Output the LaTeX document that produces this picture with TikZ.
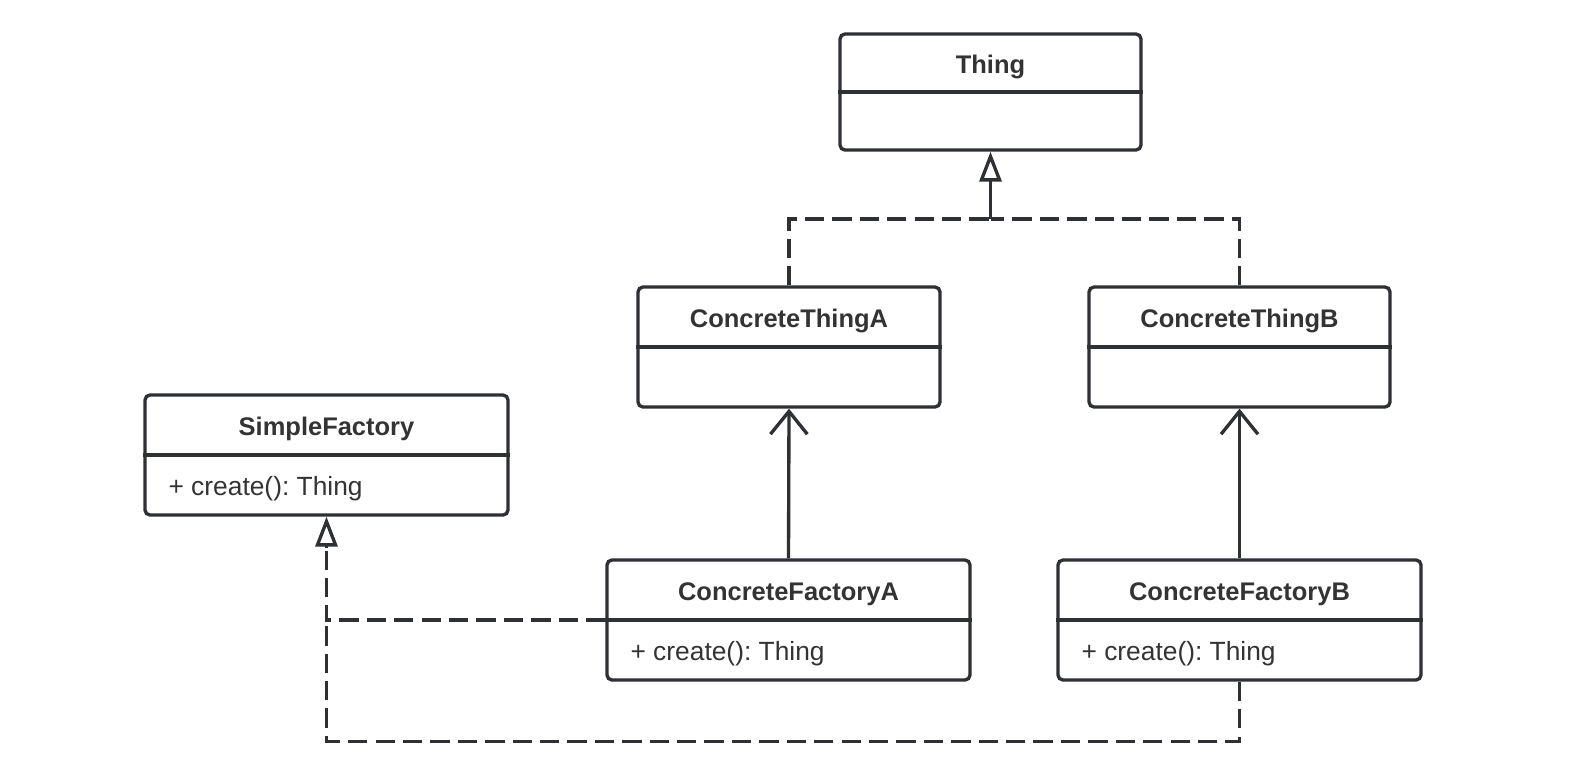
\documentclass[tikz,border=0pt]{standalone}
\usepackage{fontspec}
\setmainfont{Liberation Sans}
\usetikzlibrary{arrows.meta,calc}
\definecolor{umlline}{HTML}{2E3034}
\definecolor{umltext}{HTML}{333333}
\frenchspacing

\tikzset{
	umlbox/.style={draw=umlline,line width=1.9pt,rounded corners=0.1cm,minimum height=2.4cm,inner sep=0pt},
	umltitle/.style={text=umltext,font=\fontsize{14.5}{17}\selectfont\bfseries},
	umlbody/.style={text=umltext,anchor=west,font=\fontsize{15}{18}\selectfont},
	umldash/.style={draw=umlline,line width=1.9pt,dash pattern=on 11pt off 4.6pt},
	realize/.style={draw=umlline,line width=1.9pt,-{Triangle[open,length=17pt,width=12.5pt]}},
	assoc/.style={draw=umlline,line width=1.9pt,-{Straight Barb[length=13pt,width=21pt]}}
}

\begin{document}
\begin{tikzpicture}
	\useasboundingbox (0,0) rectangle (31.44,-15.2);
	
	% classes
	\node[umlbox,minimum width=6.02cm,minimum height=2.32cm] (thing) at (19.81,-1.84) {};
	\node[umlbox,minimum width=6.04cm] (cta) at (15.78,-6.94) {};
	\node[umlbox,minimum width=6.02cm] (ctb) at (24.79,-6.94) {};
	\node[umlbox,minimum width=7.26cm] (sf) at (6.53,-9.1) {};
	\node[umlbox,minimum width=7.26cm] (cfa) at (15.77,-12.4) {};
	\node[umlbox,minimum width=7.26cm] (cfb) at (24.79,-12.4) {};
	
	% dividers
	\foreach \c in {thing,cta,ctb,sf,cfa,cfb}
		\draw[umlline,line width=1.9pt] (\c.west)--(\c.east);
	
	% titles
	\node[umltitle] (thingT) at ([yshift=0.5cm]thing.center) {Thing};
	\node[umltitle] (ctaT) at ([yshift=0.52cm]cta.center) {ConcreteThingA};
	\node[umltitle] (ctbT) at ([yshift=0.52cm]ctb.center) {ConcreteThingB};
	\node[umltitle] (sfT) at ([yshift=0.52cm]sf.center) {SimpleFactory};
	\node[umltitle] (cfaT) at ([yshift=0.52cm]cfa.center) {ConcreteFactoryA};
	\node[umltitle] (cfbT) at ([yshift=0.52cm]cfb.center) {ConcreteFactoryB};
	
	% operations
	\node[umlbody] (sfB) at ([xshift=0.38cm,yshift=-0.68cm]sf.west) {+ create(): Thing};
	\node[umlbody] (cfaB) at ([xshift=0.38cm,yshift=-0.68cm]cfa.west) {+ create(): Thing};
	\node[umlbody] (cfbB) at ([xshift=0.38cm,yshift=-0.68cm]cfb.west) {+ create(): Thing};
	
	% connectors
	\coordinate (join) at (19.81,-4.38);
	\coordinate (low) at ($(cfb.south)+(0,-1.2)$);
	\coordinate (sfin) at ($(sf.south)+(0,-0.62)$);
	
	\draw[umldash] (cta.north) |- (join);
	\draw[umldash] (ctb.north) |- (join);
	\draw[realize] (join) -- (thing.south);
	
	\draw[assoc] (cfa.north) -- (cta.south);
	\draw[assoc] (cfb.north) -- (ctb.south);
	
	\draw[umldash] (cfb.south) -- (low) -| (sf.south |- cfa.west);
	\draw[umldash] (cfa.west) -| (sfin);
	\draw[realize] (sfin) -- (sf.south);
\end{tikzpicture}
\end{document}
